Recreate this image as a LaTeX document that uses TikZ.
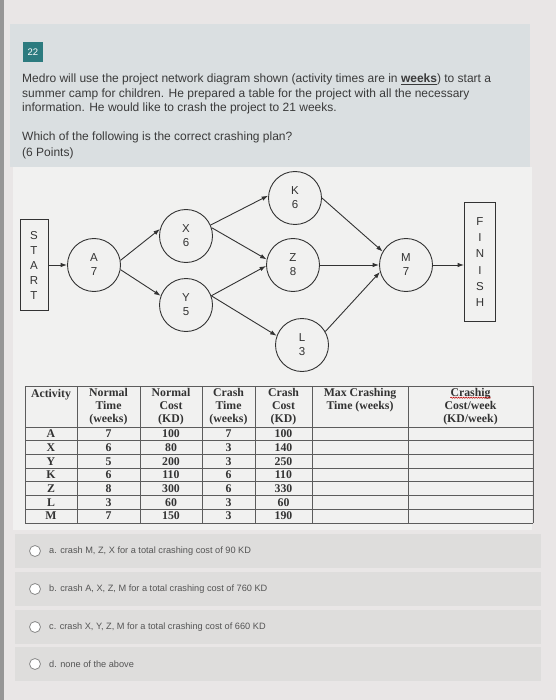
\documentclass[tikz,border=0pt]{standalone}
\usepackage{fontspec}
\setmainfont{Liberation Sans}
\newfontfamily\tabfont{Liberation Serif}
\usetikzlibrary{arrows.meta,decorations.pathmorphing}
\definecolor{pagebg}{HTML}{E9E6E6}
\definecolor{qpanel}{HTML}{DADFE1}
\definecolor{diagbg}{HTML}{F1F1F0}
\definecolor{optbar}{HTML}{DEDDDC}
\definecolor{teal22}{HTML}{2C7B7F}
\definecolor{ink}{HTML}{333333}
\definecolor{qtext}{HTML}{3A3A3A}
\definecolor{opttext}{HTML}{555555}
\definecolor{edgegray}{HTML}{8A8A8A}
\tikzset{
  act/.style={circle, draw=ink, line width=0.9pt, minimum size=53pt, inner sep=0pt, align=center, text=ink,
    font=\fontsize{11.5}{14}\selectfont},
  endbox/.style={rectangle, draw=ink, line width=0.9pt, inner sep=0pt, align=center, text=ink, fill=diagbg},
  arr/.style={draw=ink, line width=0.9pt, -{Latex[length=6.5pt,width=4.5pt]}},
  qline/.style={anchor=base west, inner sep=0pt, text=qtext, font=\fontsize{12}{14}\selectfont},
  tabtxt/.style={inner sep=0pt, text=ink, font=\tabfont\bfseries\fontsize{11.8}{13}\selectfont},
  tabhead/.style={tabtxt, anchor=north, align=center},
  radio/.style={circle, draw=edgegray, fill=white, line width=0.8pt, minimum size=11pt, inner sep=0pt},
  opt/.style={anchor=west, inner sep=0pt, text=opttext, font=\fontsize{9.2}{11}\selectfont},
  tabrule/.style={draw=ink!80, line width=0.7pt}
}
\begin{document}
\begin{tikzpicture}[x=1pt,y=-1pt]
\useasboundingbox (0,0) rectangle (556,700);
% backgrounds
\fill[pagebg] (0,0) rectangle (556,700);
\fill[edgegray!90] (0,0) rectangle (4,700);
\fill[qpanel] (10,24) rectangle (530,167);
\fill[diagbg] (13,167) rectangle (532,530);
% badge and question
\node[fill=teal22, text=white, minimum size=20pt, inner sep=0pt, font=\fontsize{9.5}{9.5}\selectfont] (badge) at (33,52) {22};
\node[qline] (q1) at (22,83) {Medro will use the project network diagram shown (activity times are in \textbf{\underline{weeks}}) to start a};
\node[qline] (q2) at (22,97.5) {summer camp for children. He prepared a table for the project with all the necessary};
\node[qline] (q3) at (22,112) {information. He would like to crash the project to 21 weeks.};
\node[qline] (q4) at (22,141) {Which of the following is the correct crashing plan?};
\node[qline] (q5) at (22,157) {(6 Points)};
% network
\node[endbox, minimum width=28pt, minimum height=91pt, font=\fontsize{11.5}{15}\selectfont] (start) at (34,265) {S\\T\\A\\R\\T};
\node[endbox, minimum width=31pt, minimum height=119pt, font=\fontsize{11.5}{16.3}\selectfont] (finish) at (480,262) {F\\I\\N\\I\\S\\H};
\node[act] (A) at (94,265) {A\\7};
\node[act] (X) at (186,236) {X\\6};
\node[act] (Y) at (186,305) {Y\\5};
\node[act] (K) at (295,198) {K\\6};
\node[act] (Z) at (293,265) {Z\\8};
\node[act] (L) at (302,345) {L\\3};
\node[act] (M) at (406,265) {M\\7};
\draw[arr] (start.east |- A.west) -- (A.west);
\draw[arr] (A.10) -- (X.165);
\draw[arr] (A.-10) -- (Y.160);
\draw[arr] (X.24) -- (K.175);
\draw[arr] (X.18) -- (Z.168);
\draw[arr] (Y.20) -- (Z.182);
\draw[arr] (Y.20) -- (L.160);
\draw[arr] (K.east) -- (M.150);
\draw[arr] (Z.east) -- (M.west);
\draw[arr] (L.30) -- (M.195);
\draw[arr] (M.east) -- (finish.west |- M.east);
% table grid
\foreach \yy in {386,427,440.7,454.4,468.1,481.8,495.5,509.2,522.9}
  \draw[tabrule] (25,\yy) -- (533,\yy);
\foreach \xx in {25,77,140,202,255,312,408,533}
  \draw[tabrule] (\xx,386) -- (\xx,522.9);
% table header
\node[tabhead] (h1) at (51,389) {Activity};
\node[tabhead] (h2) at (108.5,388) {Normal\\Time\\(weeks)};
\node[tabhead] (h3) at (171,388) {Normal\\Cost\\(KD)};
\node[tabhead] (h4) at (228.5,388) {Crash\\Time\\(weeks)};
\node[tabhead] (h5) at (283.5,388) {Crash\\Cost\\(KD)};
\node[tabhead] (h6) at (360,388) {Max Crashing\\Time (weeks)};
\node[tabhead] (h7a) at (470.5,388) {Crashig};
\node[tabhead] (h7b) at (470.5,401) {Cost/week\\(KD/week)};
\draw[red!75!black, line width=0.5pt, decorate, decoration={snake, amplitude=0.6pt, segment length=2.5pt}]
  ([yshift=1.5pt]h7a.south west) -- ([yshift=1.5pt]h7a.south east);
% table data
\foreach \ac/\nt/\nc/\ct/\cc [count=\r] in {A/7/100/7/100, X/6/80/3/140, Y/5/200/3/250, K/6/110/6/110, Z/8/300/6/330, L/3/60/3/60, M/7/150/3/190}{
  \pgfmathsetmacro{\yc}{427+13.7*(\r-0.5)}
  \node[tabtxt] (r\r c1) at (51,\yc) {\ac};
  \node[tabtxt] (r\r c2) at (108.5,\yc) {\nt};
  \node[tabtxt] (r\r c3) at (171,\yc) {\nc};
  \node[tabtxt] (r\r c4) at (228.5,\yc) {\ct};
  \node[tabtxt] (r\r c5) at (283.5,\yc) {\cc};
}
% options
\foreach \yt/\txt [count=\i] in {551/{a. crash M, Z, X for a total crashing cost of 90 KD},
                                 589/{b. crash A, X, Z, M for a total crashing cost of 760 KD},
                                 627/{c. crash X, Y, Z, M for a total crashing cost of 660 KD},
                                 664/{d. none of the above}}{
  \fill[optbar] (15,\yt-17) rectangle (541,\yt+17);
  \node[radio] (rb\i) at (35,\yt) {};
  \node[opt] (ot\i) at (49,\yt) {\txt};
}
\end{tikzpicture}
\end{document}
